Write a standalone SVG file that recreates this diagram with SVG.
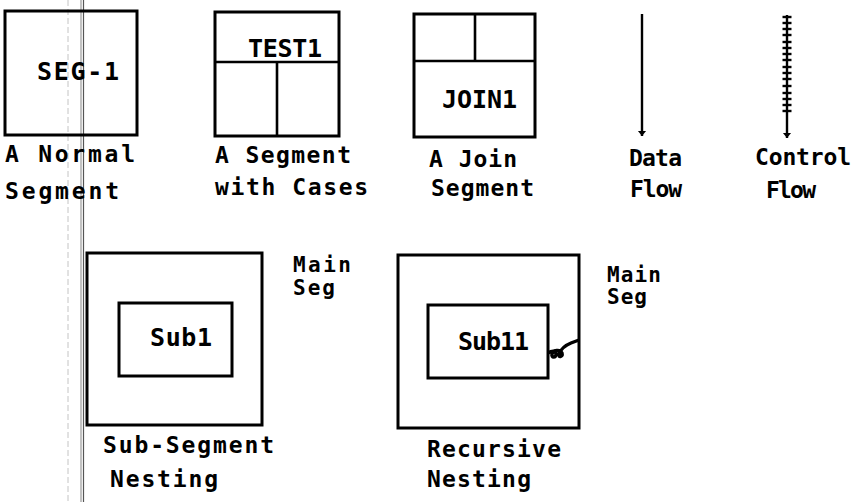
<svg xmlns="http://www.w3.org/2000/svg" width="852" height="502" viewBox="0 0 852 502">
  <style>
    .box { fill: none; stroke: #000; stroke-width: 3; }
    .div { fill: none; stroke: #000; stroke-width: 2.6; }
    .lbl { font-family: "DejaVu Sans Mono", "Liberation Mono", monospace; font-weight: bold; font-size: 23px; fill: #000; }
    .name { font-family: "DejaVu Sans Mono", "Liberation Mono", monospace; font-weight: bold; font-size: 25px; fill: #000; }
    .small { font-family: "DejaVu Sans Mono", "Liberation Mono", monospace; font-weight: bold; font-size: 21px; fill: #000; }
    .flow { fill: none; stroke: #000; stroke-width: 2.4; }
    .tick { stroke: #000; stroke-width: 2.4; }
  </style>
  <defs>
    <marker id="head" viewBox="0 0 6 10" refX="5.5" refY="5" markerWidth="6" markerHeight="10" markerUnits="userSpaceOnUse" orient="auto">
      <path d="M0,0.5 L5.5,5 L0,9.5 Z" fill="#000"/>
    </marker>
  </defs>

  <rect width="852" height="502" fill="#fff"/>

  <!-- page rules running down the left margin -->
  <g id="margin-rules">
    <line x1="68" y1="0" x2="68" y2="502" stroke="#c4c4c4" stroke-width="1" stroke-dasharray="6 3"/>
    <line x1="81" y1="0" x2="81" y2="502" stroke="#9a9a9a" stroke-width="1.2"/>
    <line x1="83.5" y1="0" x2="83.5" y2="502" stroke="#555" stroke-width="1.2"/>
  </g>

  <!-- normal segment -->
  <g id="seg-normal">
    <rect class="box" x="5" y="11" width="132" height="124"/>
    <text class="name" x="37" y="80" textLength="82" lengthAdjust="spacing">SEG-1</text>
    <text class="lbl" x="5" y="162" textLength="130" lengthAdjust="spacing">A Normal</text>
    <text class="lbl" x="5" y="199" textLength="114" lengthAdjust="spacing">Segment</text>
  </g>

  <!-- segment with cases -->
  <g id="seg-cases">
    <rect class="box" x="215" y="12" width="124" height="124"/>
    <line class="div" x1="215" y1="62" x2="339" y2="62"/>
    <line class="div" x1="277" y1="62" x2="277" y2="136"/>
    <text class="name" x="248" y="57" textLength="74" lengthAdjust="spacing">TEST1</text>
    <text class="lbl" x="215" y="163" textLength="136" lengthAdjust="spacing">A Segment</text>
    <text class="lbl" x="215" y="195" textLength="153" lengthAdjust="spacing">with Cases</text>
  </g>

  <!-- join segment -->
  <g id="seg-join">
    <rect class="box" x="414" y="14" width="121" height="123"/>
    <line class="div" x1="414" y1="61" x2="535" y2="61"/>
    <line class="div" x1="475" y1="14" x2="475" y2="61"/>
    <text class="name" x="442" y="108" textLength="75" lengthAdjust="spacing">JOIN1</text>
    <text class="lbl" x="429" y="167" textLength="88" lengthAdjust="spacing">A Join</text>
    <text class="lbl" x="431" y="196" textLength="103" lengthAdjust="spacing">Segment</text>
  </g>

  <!-- flow legends -->
  <g id="connectors">
    <line id="data-flow" class="flow" x1="642" y1="14" x2="642" y2="136" marker-end="url(#head)"/>
    <line id="control-flow" class="flow" x1="787" y1="15" x2="787" y2="138" marker-end="url(#head)"/>
    <g id="control-ticks">
      <line class="tick" x1="782.5" y1="17" x2="791.5" y2="17"/>
      <line class="tick" x1="782.5" y1="23" x2="791.5" y2="23"/>
      <line class="tick" x1="782.5" y1="29" x2="791.5" y2="29"/>
      <line class="tick" x1="782.5" y1="35" x2="791.5" y2="35"/>
      <line class="tick" x1="782.5" y1="42" x2="791.5" y2="42"/>
      <line class="tick" x1="782.5" y1="48" x2="791.5" y2="48"/>
      <line class="tick" x1="782.5" y1="54" x2="791.5" y2="54"/>
      <line class="tick" x1="782.5" y1="60" x2="791.5" y2="60"/>
      <line class="tick" x1="782.5" y1="67" x2="791.5" y2="67"/>
      <line class="tick" x1="782.5" y1="73" x2="791.5" y2="73"/>
      <line class="tick" x1="782.5" y1="79" x2="791.5" y2="79"/>
      <line class="tick" x1="782.5" y1="86" x2="791.5" y2="86"/>
      <line class="tick" x1="782.5" y1="93" x2="791.5" y2="93"/>
      <line class="tick" x1="782.5" y1="99" x2="791.5" y2="99"/>
      <line class="tick" x1="782.5" y1="105" x2="791.5" y2="105"/>
      <line class="tick" x1="782.5" y1="111" x2="791.5" y2="111"/>
    </g>
    <!-- recursive call curl from Sub11 back to its parent -->
    <path id="recursion" d="M548,353 C551,351 556,350 556,354 C556,358 551,358 552,354 C553,350 560,349 562,353 C563,357 558,358 559,354 C561,349 566,345 571,343 L579,340" fill="none" stroke="#000" stroke-width="3.4"/>
  </g>
  <g id="legend-labels">
    <text class="lbl" x="629" y="166" textLength="53" lengthAdjust="spacing">Data</text>
    <text class="lbl" x="630" y="197" textLength="52" lengthAdjust="spacing">Flow</text>
    <text class="lbl" x="755" y="165" textLength="96" lengthAdjust="spacing">Control</text>
    <text class="lbl" x="766" y="198" textLength="50" lengthAdjust="spacing">Flow</text>
  </g>

  <!-- sub-segment nesting -->
  <g id="nest-sub">
    <rect class="box" x="87" y="253" width="175" height="172"/>
    <rect class="box" x="119" y="303" width="113" height="73"/>
    <text class="name" x="150" y="346" textLength="62" lengthAdjust="spacing">Sub1</text>
    <text class="small" x="293" y="272" textLength="58" lengthAdjust="spacing">Main</text>
    <text class="small" x="293" y="295" textLength="42" lengthAdjust="spacing">Seg</text>
    <text class="lbl" x="103" y="453" textLength="171" lengthAdjust="spacing">Sub-Segment</text>
    <text class="lbl" x="110" y="487" textLength="108" lengthAdjust="spacing">Nesting</text>
  </g>

  <!-- recursive nesting -->
  <g id="nest-recursive">
    <rect class="box" x="398" y="255" width="181" height="173"/>
    <rect class="box" x="428" y="305" width="120" height="73"/>
    <text class="name" x="458" y="350" textLength="71" lengthAdjust="spacing">Sub11</text>
    <text class="small" x="607" y="282" textLength="54" lengthAdjust="spacing">Main</text>
    <text class="small" x="607" y="304" textLength="40" lengthAdjust="spacing">Seg</text>
    <text class="lbl" x="427" y="457" textLength="134" lengthAdjust="spacing">Recursive</text>
    <text class="lbl" x="427" y="487" textLength="104" lengthAdjust="spacing">Nesting</text>
  </g>
</svg>
